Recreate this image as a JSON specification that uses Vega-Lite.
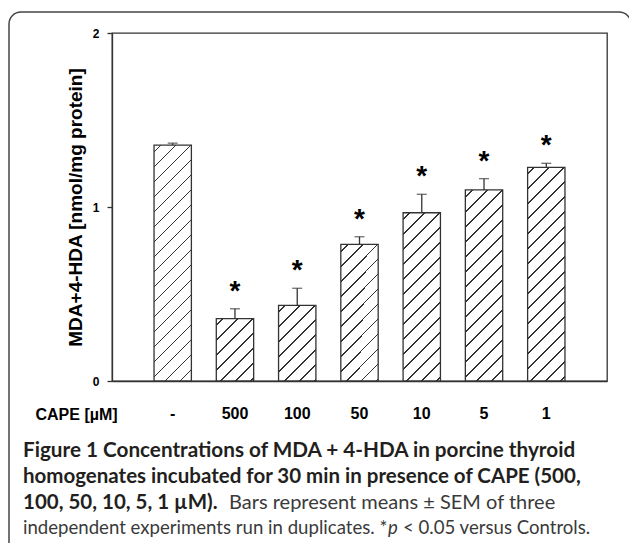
{
  "$schema": "https://vega.github.io/schema/vega-lite/v6.json",
  "width": 495,
  "height": 348,
  "autosize": "none",
  "padding": {"left": 112, "top": 33, "right": 22, "bottom": 162},
  "background": "white",
  "config": {"view": {"stroke": "#333", "strokeWidth": 1.3}, "font": "Liberation Sans"},
  "data": {"values": [
    {"cape": "-", "mean": 1.356, "upper": 1.367, "sig": ""},
    {"cape": "500", "mean": 0.358, "upper": 0.415, "sig": "*"},
    {"cape": "100", "mean": 0.435, "upper": 0.533, "sig": "*"},
    {"cape": "50", "mean": 0.785, "upper": 0.829, "sig": "*"},
    {"cape": "10", "mean": 0.967, "upper": 1.073, "sig": "*"},
    {"cape": "5", "mean": 1.098, "upper": 1.163, "sig": "*"},
    {"cape": "1", "mean": 1.228, "upper": 1.251, "sig": "*"}
  ]},
  "layer": [
    {
      "data": {"values": [{}]},
      "mark": {"type": "rect", "x": -103, "x2": 519, "y": -21, "y2": 527, "cornerRadius": 12, "filled": false, "color": "#444", "strokeWidth": 1.5}
    },
    {
      "mark": {"type": "bar", "stroke": "#333", "strokeWidth": 1.3},
      "encoding": {
        "x": {"field": "cape", "type": "nominal", "sort": null,
          "scale": {"paddingInner": 0.4, "paddingOuter": 0.675},
          "axis": {"title": "CAPE [µM]", "titleX": -77, "titleY": 38.5, "titleAlign": "left", "titleBaseline": "alphabetic", "titleAngle": 0, "titleFontSize": 16, "titleFontWeight": "bold", "titleColor": "black",
            "labelAngle": 0, "labelFontSize": 16, "labelFontWeight": "bold", "labelColor": "black", "labelPadding": 24, "ticks": false, "tickSize": 0, "domainColor": "#333", "domainWidth": 1.3}},
        "y": {"field": "mean", "type": "quantitative", "title": "MDA+4-HDA [nmol/mg protein]",
          "scale": {"domain": [0, 2], "nice": false},
          "axis": {"values": [0, 1, 2], "format": ".0f", "labelOverlap": false, "grid": false, "tickSize": 5, "tickColor": "#333", "tickWidth": 1.3, "domainColor": "#333", "domainWidth": 1.3,
            "labelFontSize": 12, "labelFontWeight": "bold", "labelPadding": 8, "labelColor": "black",
            "titleFontSize": 19, "titleFontWeight": "bold", "titleColor": "black", "titleX": -37, "titleY": 174, "titleAlign": "center", "titleBaseline": "middle", "titleAngle": -90}},
        "fill": {
          "condition": [
            {"test": "datum.cape === '-'", "value": {"gradient": "linear", "x1": 0, "y1": 0, "x2": 0.19668, "y2": 1.24055, "stops": [
              {"offset":0.02,"color":"#fff"},{"offset":0.02,"color":"#333"},{"offset":0.026,"color":"#333"},{"offset":0.026,"color":"#fff"},
              {"offset":0.07,"color":"#fff"},{"offset":0.07,"color":"#333"},{"offset":0.076,"color":"#333"},{"offset":0.076,"color":"#fff"},
              {"offset":0.12,"color":"#fff"},{"offset":0.12,"color":"#333"},{"offset":0.126,"color":"#333"},{"offset":0.126,"color":"#fff"},
              {"offset":0.17,"color":"#fff"},{"offset":0.17,"color":"#333"},{"offset":0.176,"color":"#333"},{"offset":0.176,"color":"#fff"},
              {"offset":0.22,"color":"#fff"},{"offset":0.22,"color":"#333"},{"offset":0.226,"color":"#333"},{"offset":0.226,"color":"#fff"},
              {"offset":0.27,"color":"#fff"},{"offset":0.27,"color":"#333"},{"offset":0.276,"color":"#333"},{"offset":0.276,"color":"#fff"},
              {"offset":0.32,"color":"#fff"},{"offset":0.32,"color":"#333"},{"offset":0.326,"color":"#333"},{"offset":0.326,"color":"#fff"},
              {"offset":0.37,"color":"#fff"},{"offset":0.37,"color":"#333"},{"offset":0.376,"color":"#333"},{"offset":0.376,"color":"#fff"},
              {"offset":0.42,"color":"#fff"},{"offset":0.42,"color":"#333"},{"offset":0.426,"color":"#333"},{"offset":0.426,"color":"#fff"},
              {"offset":0.47,"color":"#fff"},{"offset":0.47,"color":"#333"},{"offset":0.476,"color":"#333"},{"offset":0.476,"color":"#fff"},
              {"offset":0.52,"color":"#fff"},{"offset":0.52,"color":"#333"},{"offset":0.526,"color":"#333"},{"offset":0.526,"color":"#fff"},
              {"offset":0.57,"color":"#fff"},{"offset":0.57,"color":"#333"},{"offset":0.576,"color":"#333"},{"offset":0.576,"color":"#fff"},
              {"offset":0.62,"color":"#fff"},{"offset":0.62,"color":"#333"},{"offset":0.626,"color":"#333"},{"offset":0.626,"color":"#fff"},
              {"offset":0.67,"color":"#fff"},{"offset":0.67,"color":"#333"},{"offset":0.676,"color":"#333"},{"offset":0.676,"color":"#fff"},
              {"offset":0.72,"color":"#fff"},{"offset":0.72,"color":"#333"},{"offset":0.726,"color":"#333"},{"offset":0.726,"color":"#fff"},
              {"offset":0.77,"color":"#fff"},{"offset":0.77,"color":"#333"},{"offset":0.776,"color":"#333"},{"offset":0.776,"color":"#fff"},
              {"offset":0.82,"color":"#fff"},{"offset":0.82,"color":"#333"},{"offset":0.826,"color":"#333"},{"offset":0.826,"color":"#fff"},
              {"offset":0.87,"color":"#fff"},{"offset":0.87,"color":"#333"},{"offset":0.876,"color":"#333"},{"offset":0.876,"color":"#fff"},
              {"offset":0.92,"color":"#fff"},{"offset":0.92,"color":"#333"},{"offset":0.926,"color":"#333"},{"offset":0.926,"color":"#fff"}
            ]}},
            {"test": "datum.cape === '500'", "value": {"gradient": "linear", "x1": 0, "y1": 0, "x2": 2.1250, "y2": 3.5397, "stops": [
              {"offset":0.02,"color":"#fff"},{"offset":0.02,"color":"#333"},{"offset":0.026,"color":"#333"},{"offset":0.026,"color":"#fff"},
              {"offset":0.07,"color":"#fff"},{"offset":0.07,"color":"#333"},{"offset":0.076,"color":"#333"},{"offset":0.076,"color":"#fff"},
              {"offset":0.12,"color":"#fff"},{"offset":0.12,"color":"#333"},{"offset":0.126,"color":"#333"},{"offset":0.126,"color":"#fff"},
              {"offset":0.17,"color":"#fff"},{"offset":0.17,"color":"#333"},{"offset":0.176,"color":"#333"},{"offset":0.176,"color":"#fff"},
              {"offset":0.22,"color":"#fff"},{"offset":0.22,"color":"#333"},{"offset":0.226,"color":"#333"},{"offset":0.226,"color":"#fff"},
              {"offset":0.27,"color":"#fff"},{"offset":0.27,"color":"#333"},{"offset":0.276,"color":"#333"},{"offset":0.276,"color":"#fff"},
              {"offset":0.32,"color":"#fff"},{"offset":0.32,"color":"#333"},{"offset":0.326,"color":"#333"},{"offset":0.326,"color":"#fff"}
            ]}},
            {"test": "datum.cape === '100'", "value": {"gradient": "linear", "x1": 0, "y1": 0, "x2": 1.5738, "y2": 3.1855, "stops": [
              {"offset":0.02,"color":"#fff"},{"offset":0.02,"color":"#333"},{"offset":0.026,"color":"#333"},{"offset":0.026,"color":"#fff"},
              {"offset":0.07,"color":"#fff"},{"offset":0.07,"color":"#333"},{"offset":0.076,"color":"#333"},{"offset":0.076,"color":"#fff"},
              {"offset":0.12,"color":"#fff"},{"offset":0.12,"color":"#333"},{"offset":0.126,"color":"#333"},{"offset":0.126,"color":"#fff"},
              {"offset":0.17,"color":"#fff"},{"offset":0.17,"color":"#333"},{"offset":0.176,"color":"#333"},{"offset":0.176,"color":"#fff"},
              {"offset":0.22,"color":"#fff"},{"offset":0.22,"color":"#333"},{"offset":0.226,"color":"#333"},{"offset":0.226,"color":"#fff"},
              {"offset":0.27,"color":"#fff"},{"offset":0.27,"color":"#333"},{"offset":0.276,"color":"#333"},{"offset":0.276,"color":"#fff"},
              {"offset":0.32,"color":"#fff"},{"offset":0.32,"color":"#333"},{"offset":0.326,"color":"#333"},{"offset":0.326,"color":"#fff"},
              {"offset":0.37,"color":"#fff"},{"offset":0.37,"color":"#333"},{"offset":0.376,"color":"#333"},{"offset":0.376,"color":"#fff"}
            ]}},
            {"test": "datum.cape === '50'", "value": {"gradient": "linear", "x1": 0, "y1": 0, "x2": 0.55937, "y2": 2.04303, "stops": [
              {"offset":0.02,"color":"#fff"},{"offset":0.02,"color":"#333"},{"offset":0.026,"color":"#333"},{"offset":0.026,"color":"#fff"},
              {"offset":0.07,"color":"#fff"},{"offset":0.07,"color":"#333"},{"offset":0.076,"color":"#333"},{"offset":0.076,"color":"#fff"},
              {"offset":0.12,"color":"#fff"},{"offset":0.12,"color":"#333"},{"offset":0.126,"color":"#333"},{"offset":0.126,"color":"#fff"},
              {"offset":0.17,"color":"#fff"},{"offset":0.17,"color":"#333"},{"offset":0.176,"color":"#333"},{"offset":0.176,"color":"#fff"},
              {"offset":0.22,"color":"#fff"},{"offset":0.22,"color":"#333"},{"offset":0.226,"color":"#333"},{"offset":0.226,"color":"#fff"},
              {"offset":0.27,"color":"#fff"},{"offset":0.27,"color":"#333"},{"offset":0.276,"color":"#333"},{"offset":0.276,"color":"#fff"},
              {"offset":0.32,"color":"#fff"},{"offset":0.32,"color":"#333"},{"offset":0.326,"color":"#333"},{"offset":0.326,"color":"#fff"},
              {"offset":0.37,"color":"#fff"},{"offset":0.37,"color":"#333"},{"offset":0.376,"color":"#333"},{"offset":0.376,"color":"#fff"},
              {"offset":0.42,"color":"#fff"},{"offset":0.42,"color":"#333"},{"offset":0.426,"color":"#333"},{"offset":0.426,"color":"#fff"},
              {"offset":0.47,"color":"#fff"},{"offset":0.47,"color":"#333"},{"offset":0.476,"color":"#333"},{"offset":0.476,"color":"#fff"},
              {"offset":0.52,"color":"#fff"},{"offset":0.52,"color":"#333"},{"offset":0.526,"color":"#333"},{"offset":0.526,"color":"#fff"},
              {"offset":0.57,"color":"#fff"},{"offset":0.57,"color":"#333"},{"offset":0.576,"color":"#333"},{"offset":0.576,"color":"#fff"}
            ]}},
            {"test": "datum.cape === '10'", "value": {"gradient": "linear", "x1": 0, "y1": 0, "x2": 0.377478, "y2": 1.698652, "stops": [
              {"offset":0.02,"color":"#fff"},{"offset":0.02,"color":"#333"},{"offset":0.026,"color":"#333"},{"offset":0.026,"color":"#fff"},
              {"offset":0.07,"color":"#fff"},{"offset":0.07,"color":"#333"},{"offset":0.076,"color":"#333"},{"offset":0.076,"color":"#fff"},
              {"offset":0.12,"color":"#fff"},{"offset":0.12,"color":"#333"},{"offset":0.126,"color":"#333"},{"offset":0.126,"color":"#fff"},
              {"offset":0.17,"color":"#fff"},{"offset":0.17,"color":"#333"},{"offset":0.176,"color":"#333"},{"offset":0.176,"color":"#fff"},
              {"offset":0.22,"color":"#fff"},{"offset":0.22,"color":"#333"},{"offset":0.226,"color":"#333"},{"offset":0.226,"color":"#fff"},
              {"offset":0.27,"color":"#fff"},{"offset":0.27,"color":"#333"},{"offset":0.276,"color":"#333"},{"offset":0.276,"color":"#fff"},
              {"offset":0.32,"color":"#fff"},{"offset":0.32,"color":"#333"},{"offset":0.326,"color":"#333"},{"offset":0.326,"color":"#fff"},
              {"offset":0.37,"color":"#fff"},{"offset":0.37,"color":"#333"},{"offset":0.376,"color":"#333"},{"offset":0.376,"color":"#fff"},
              {"offset":0.42,"color":"#fff"},{"offset":0.42,"color":"#333"},{"offset":0.426,"color":"#333"},{"offset":0.426,"color":"#fff"},
              {"offset":0.47,"color":"#fff"},{"offset":0.47,"color":"#333"},{"offset":0.476,"color":"#333"},{"offset":0.476,"color":"#fff"},
              {"offset":0.52,"color":"#fff"},{"offset":0.52,"color":"#333"},{"offset":0.526,"color":"#333"},{"offset":0.526,"color":"#fff"},
              {"offset":0.57,"color":"#fff"},{"offset":0.57,"color":"#333"},{"offset":0.576,"color":"#333"},{"offset":0.576,"color":"#fff"},
              {"offset":0.62,"color":"#fff"},{"offset":0.62,"color":"#333"},{"offset":0.626,"color":"#333"},{"offset":0.626,"color":"#fff"},
              {"offset":0.67,"color":"#fff"},{"offset":0.67,"color":"#333"},{"offset":0.676,"color":"#333"},{"offset":0.676,"color":"#fff"}
            ]}},
            {"test": "datum.cape === '5'", "value": {"gradient": "linear", "x1": 0, "y1": 0, "x2": 0.295902, "y2": 1.511947, "stops": [
              {"offset":0.02,"color":"#fff"},{"offset":0.02,"color":"#333"},{"offset":0.026,"color":"#333"},{"offset":0.026,"color":"#fff"},
              {"offset":0.07,"color":"#fff"},{"offset":0.07,"color":"#333"},{"offset":0.076,"color":"#333"},{"offset":0.076,"color":"#fff"},
              {"offset":0.12,"color":"#fff"},{"offset":0.12,"color":"#333"},{"offset":0.126,"color":"#333"},{"offset":0.126,"color":"#fff"},
              {"offset":0.17,"color":"#fff"},{"offset":0.17,"color":"#333"},{"offset":0.176,"color":"#333"},{"offset":0.176,"color":"#fff"},
              {"offset":0.22,"color":"#fff"},{"offset":0.22,"color":"#333"},{"offset":0.226,"color":"#333"},{"offset":0.226,"color":"#fff"},
              {"offset":0.27,"color":"#fff"},{"offset":0.27,"color":"#333"},{"offset":0.276,"color":"#333"},{"offset":0.276,"color":"#fff"},
              {"offset":0.32,"color":"#fff"},{"offset":0.32,"color":"#333"},{"offset":0.326,"color":"#333"},{"offset":0.326,"color":"#fff"},
              {"offset":0.37,"color":"#fff"},{"offset":0.37,"color":"#333"},{"offset":0.376,"color":"#333"},{"offset":0.376,"color":"#fff"},
              {"offset":0.42,"color":"#fff"},{"offset":0.42,"color":"#333"},{"offset":0.426,"color":"#333"},{"offset":0.426,"color":"#fff"},
              {"offset":0.47,"color":"#fff"},{"offset":0.47,"color":"#333"},{"offset":0.476,"color":"#333"},{"offset":0.476,"color":"#fff"},
              {"offset":0.52,"color":"#fff"},{"offset":0.52,"color":"#333"},{"offset":0.526,"color":"#333"},{"offset":0.526,"color":"#fff"},
              {"offset":0.57,"color":"#fff"},{"offset":0.57,"color":"#333"},{"offset":0.576,"color":"#333"},{"offset":0.576,"color":"#fff"},
              {"offset":0.62,"color":"#fff"},{"offset":0.62,"color":"#333"},{"offset":0.626,"color":"#333"},{"offset":0.626,"color":"#fff"},
              {"offset":0.67,"color":"#fff"},{"offset":0.67,"color":"#333"},{"offset":0.676,"color":"#333"},{"offset":0.676,"color":"#fff"},
              {"offset":0.72,"color":"#fff"},{"offset":0.72,"color":"#333"},{"offset":0.726,"color":"#333"},{"offset":0.726,"color":"#fff"},
              {"offset":0.77,"color":"#fff"},{"offset":0.77,"color":"#333"},{"offset":0.776,"color":"#333"},{"offset":0.776,"color":"#fff"}
            ]}},
            {"test": "datum.cape === '1'", "value": {"gradient": "linear", "x1": 0, "y1": 0, "x2": 0.238386, "y2": 1.362115, "stops": [
              {"offset":0.02,"color":"#fff"},{"offset":0.02,"color":"#333"},{"offset":0.026,"color":"#333"},{"offset":0.026,"color":"#fff"},
              {"offset":0.07,"color":"#fff"},{"offset":0.07,"color":"#333"},{"offset":0.076,"color":"#333"},{"offset":0.076,"color":"#fff"},
              {"offset":0.12,"color":"#fff"},{"offset":0.12,"color":"#333"},{"offset":0.126,"color":"#333"},{"offset":0.126,"color":"#fff"},
              {"offset":0.17,"color":"#fff"},{"offset":0.17,"color":"#333"},{"offset":0.176,"color":"#333"},{"offset":0.176,"color":"#fff"},
              {"offset":0.22,"color":"#fff"},{"offset":0.22,"color":"#333"},{"offset":0.226,"color":"#333"},{"offset":0.226,"color":"#fff"},
              {"offset":0.27,"color":"#fff"},{"offset":0.27,"color":"#333"},{"offset":0.276,"color":"#333"},{"offset":0.276,"color":"#fff"},
              {"offset":0.32,"color":"#fff"},{"offset":0.32,"color":"#333"},{"offset":0.326,"color":"#333"},{"offset":0.326,"color":"#fff"},
              {"offset":0.37,"color":"#fff"},{"offset":0.37,"color":"#333"},{"offset":0.376,"color":"#333"},{"offset":0.376,"color":"#fff"},
              {"offset":0.42,"color":"#fff"},{"offset":0.42,"color":"#333"},{"offset":0.426,"color":"#333"},{"offset":0.426,"color":"#fff"},
              {"offset":0.47,"color":"#fff"},{"offset":0.47,"color":"#333"},{"offset":0.476,"color":"#333"},{"offset":0.476,"color":"#fff"},
              {"offset":0.52,"color":"#fff"},{"offset":0.52,"color":"#333"},{"offset":0.526,"color":"#333"},{"offset":0.526,"color":"#fff"},
              {"offset":0.57,"color":"#fff"},{"offset":0.57,"color":"#333"},{"offset":0.576,"color":"#333"},{"offset":0.576,"color":"#fff"},
              {"offset":0.62,"color":"#fff"},{"offset":0.62,"color":"#333"},{"offset":0.626,"color":"#333"},{"offset":0.626,"color":"#fff"},
              {"offset":0.67,"color":"#fff"},{"offset":0.67,"color":"#333"},{"offset":0.676,"color":"#333"},{"offset":0.676,"color":"#fff"},
              {"offset":0.72,"color":"#fff"},{"offset":0.72,"color":"#333"},{"offset":0.726,"color":"#333"},{"offset":0.726,"color":"#fff"},
              {"offset":0.77,"color":"#fff"},{"offset":0.77,"color":"#333"},{"offset":0.776,"color":"#333"},{"offset":0.776,"color":"#fff"},
              {"offset":0.82,"color":"#fff"},{"offset":0.82,"color":"#333"},{"offset":0.826,"color":"#333"},{"offset":0.826,"color":"#fff"}
            ]}}
          ],
          "value": "#fff"
        }
      }
    },
    {
      "mark": {"type": "rule", "color": "#333", "strokeWidth": 1.3},
      "encoding": {
        "x": {"field": "cape", "type": "nominal", "sort": null},
        "y": {"field": "mean", "type": "quantitative", "title": "MDA+4-HDA [nmol/mg protein]"},
        "y2": {"field": "upper"}
      }
    },
    {
      "mark": {"type": "tick", "color": "#333", "thickness": 1.3, "size": 10},
      "encoding": {
        "x": {"field": "cape", "type": "nominal", "sort": null},
        "y": {"field": "upper", "type": "quantitative", "title": "MDA+4-HDA [nmol/mg protein]"}
      }
    },
    {
      "mark": {"type": "text", "fontSize": 28, "fontWeight": "bold", "dy": -9, "color": "black", "baseline": "alphabetic"},
      "encoding": {
        "x": {"field": "cape", "type": "nominal", "sort": null},
        "y": {"field": "upper", "type": "quantitative", "title": "MDA+4-HDA [nmol/mg protein]"},
        "text": {"field": "sig"}
      }
    },
    {
      "data": {"values": [{}]},
      "mark": {"type": "text", "text": "Figure 1 Concentrations of MDA + 4-HDA in porcine thyroid", "x": -89, "y": 424, "align": "left", "baseline": "alphabetic", "font": "Lato", "fontSize": 20.7, "fontWeight": "bold", "color": "#231f20"}
    },
    {
      "data": {"values": [{}]},
      "mark": {"type": "text", "text": "homogenates incubated for 30 min in presence of CAPE (500,", "x": -89, "y": 450, "align": "left", "baseline": "alphabetic", "font": "Lato", "fontSize": 20.5, "fontWeight": "bold", "color": "#231f20"}
    },
    {
      "data": {"values": [{}]},
      "mark": {"type": "text", "text": "100, 50, 10, 5, 1 µM).", "x": -89, "y": 476, "align": "left", "baseline": "alphabetic", "font": "Lato", "fontSize": 20.5, "fontWeight": "bold", "color": "#231f20"}
    },
    {
      "data": {"values": [{}]},
      "mark": {"type": "text", "text": "Bars represent means ± SEM of three", "x": 117, "y": 476, "align": "left", "baseline": "alphabetic", "font": "Lato", "fontSize": 20, "fontWeight": "normal", "color": "#3a3a3a"}
    },
    {
      "data": {"values": [{}]},
      "mark": {"type": "text", "text": "independent experiments run in duplicates. *", "x": -89, "y": 501, "align": "left", "baseline": "alphabetic", "font": "Lato", "fontSize": 18.6, "fontWeight": "normal", "color": "#3a3a3a"}
    },
    {
      "data": {"values": [{}]},
      "mark": {"type": "text", "text": "p", "x": 276, "y": 501, "align": "left", "baseline": "alphabetic", "font": "Lato", "fontSize": 18.6, "fontStyle": "italic", "color": "#3a3a3a"}
    },
    {
      "data": {"values": [{}]},
      "mark": {"type": "text", "text": "< 0.05 versus Controls.", "x": 291, "y": 501, "align": "left", "baseline": "alphabetic", "font": "Lato", "fontSize": 18.6, "fontWeight": "normal", "color": "#3a3a3a"}
    }
  ]
}
